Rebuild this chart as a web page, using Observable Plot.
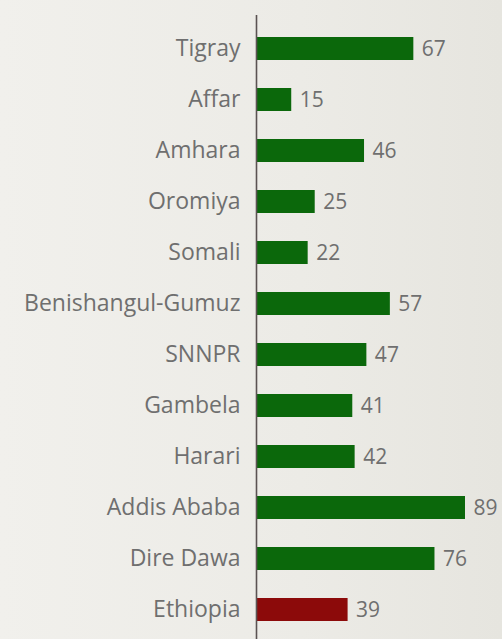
<!DOCTYPE html>
<html>
<head>
<meta charset="utf-8">
<script src="https://cdn.jsdelivr.net/npm/d3@7"></script>
<script src="https://cdn.jsdelivr.net/npm/@observablehq/plot@0.6"></script>
<style>
  html, body { margin: 0; padding: 0; background: #ecebe6; }
  #chart { width: 502px; height: 639px; background: linear-gradient(90deg, #f1f0ec 0%, #ecebe6 60%, #e6e5df 100%); }
  svg { display: block; }
</style>
</head>
<body>
<div id="chart"></div>
<script>
const regions = ["Tigray", "Affar", "Amhara", "Oromiya", "Somali", "Benishangul-Gumuz", "SNNPR", "Gambela", "Harari", "Addis Ababa", "Dire Dawa", "Ethiopia"];
const values = [67, 15, 46, 25, 22, 57, 47, 41, 42, 89, 76, 39];
const kinds = ["region", "region", "region", "region", "region", "region", "region", "region", "region", "region", "region", "national"];

const data = regions.map((r, i) => ({region: r, value: values[i], kind: kinds[i]}));

const chart = Plot.plot({
  width: 502,
  height: 639,
  marginLeft: 256,
  marginRight: 37,
  marginTop: 15,
  marginBottom: 0,
  style: {background: "transparent", fontFamily: "Open Sans, sans-serif", overflow: "visible"},
  x: {domain: [0, 89], axis: null},
  y: {domain: regions, range: [20.3, 636.7], paddingInner: 0.55, paddingOuter: 0.275, label: null},
  color: {domain: ["region", "national"], range: ["#0b680b", "#8c0a0a"]},
  marks: [
    Plot.barX(data, {y: "region", x: "value", fill: "kind"}),
    Plot.axisY({tickSize: 0, tickPadding: 16, fontSize: 23, fill: "#6f6f6f", label: null, style: {letterSpacing: "1.4px"}}),
    Plot.text(data, {y: "region", x: "value", text: d => String(d.value), textAnchor: "start", dx: 8, fontSize: 21, fill: "#6f6f6f"}),
    Plot.ruleX([0], {stroke: "#5a5252", strokeWidth: 1.6})
  ]
});
document.getElementById("chart").appendChild(chart);
</script>
</body>
</html>
